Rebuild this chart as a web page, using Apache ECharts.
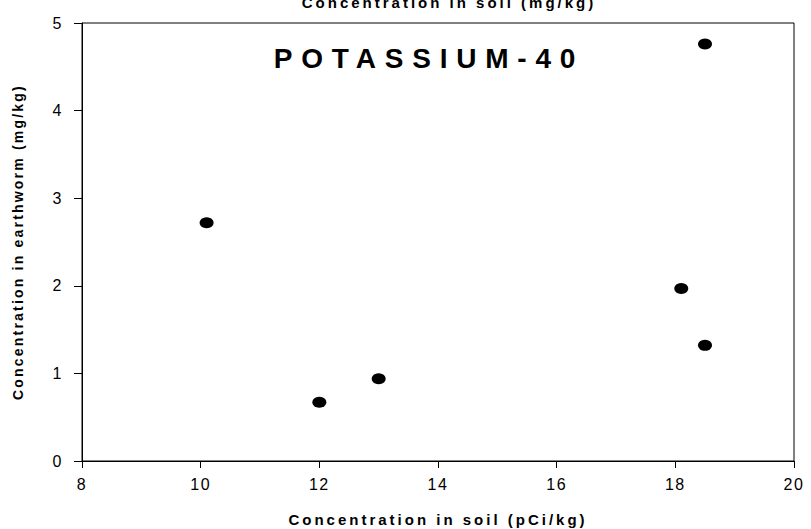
<!DOCTYPE html>
<html>
<head>
<meta charset="utf-8">
<script src="https://cdn.jsdelivr.net/npm/echarts@6/dist/echarts.min.js"></script>
<style>
  html, body { margin: 0; padding: 0; background: #fff; }
  #main { width: 811px; height: 529px; }
  /* spaced-out lettering like the original plot */
  #main text[style*="28px"] { letter-spacing: 8.8px; }
  #main text[style*="15px"] { letter-spacing: 3px; }
  #main text[style*="14px"] { letter-spacing: 2.2px; }
  #main text[style*="16px"] { letter-spacing: 1.5px; }
</style>
</head>
<body>
<div id="main"></div>
<script>
// soil concentration (pCi/kg) vs earthworm concentration (mg/kg)
var soilVals = [10.1, 12.0, 13.0, 18.1, 18.5, 18.5];
var wormVals = [2.72, 0.67, 0.94, 1.97, 1.32, 4.76];
var xTicks = [8, 10, 12, 14, 16, 18, 20];
var yTicks = [0, 1, 2, 3, 4, 5];

var points = soilVals.map(function (s, i) { return [s, wormVals[i]]; });

var chart = echarts.init(document.getElementById('main'), null, { renderer: 'svg' });
var font = "'Liberation Sans', Arial, sans-serif";

chart.setOption({
  animation: false,
  backgroundColor: '#fff',
  title: [{
    text: 'Concentration in soil (mg/kg)',
    left: 444, top: -10,
    textAlign: 'center',
    textStyle: { fontFamily: font, fontSize: 15, fontWeight: 'bold', color: '#000' }
  }, {
    text: 'POTASSIUM-40',
    left: 424, top: 39,
    textAlign: 'center',
    textStyle: { fontFamily: font, fontSize: 28, fontWeight: 'bold', color: '#000' }
  }],
  grid: {
    left: 82, right: 17, top: 23, bottom: 68,
    outerBoundsMode: 'none', containLabel: false,
    show: true, borderColor: '#000', borderWidth: 1
  },
  xAxis: {
    type: 'value',
    min: xTicks[0], max: xTicks[xTicks.length - 1], interval: 2,
    name: 'Concentration in soil (pCi/kg)',
    nameLocation: 'middle', nameGap: 51, nameMoveOverlap: false,
    nameTextStyle: { fontFamily: font, fontSize: 15, fontWeight: 'bold', color: '#000' },
    axisLine: { lineStyle: { color: '#000', width: 1 } },
    axisTick: { show: true, length: 7, lineStyle: { color: '#000' } },
    axisLabel: { fontFamily: font, fontSize: 16, color: '#000', margin: 15 },
    splitLine: { show: false }
  },
  yAxis: {
    type: 'value',
    min: yTicks[0], max: yTicks[yTicks.length - 1], interval: 1,
    name: 'Concentration in earthworm (mg/kg)',
    nameLocation: 'middle', nameGap: 57, nameMoveOverlap: false,
    nameTextStyle: { fontFamily: font, fontSize: 14, fontWeight: 'bold', color: '#000' },
    axisLine: { show: true, lineStyle: { color: '#000', width: 1 } },
    axisTick: { show: true, length: 8, lineStyle: { color: '#000' } },
    axisLabel: { fontFamily: font, fontSize: 16, color: '#000', margin: 19 },
    splitLine: { show: false }
  },
  series: [{
    type: 'scatter',
    data: points,
    symbol: 'circle',
    symbolSize: [14, 11],
    itemStyle: { color: '#000', opacity: 1 }
  }]
});
</script>
</body>
</html>
